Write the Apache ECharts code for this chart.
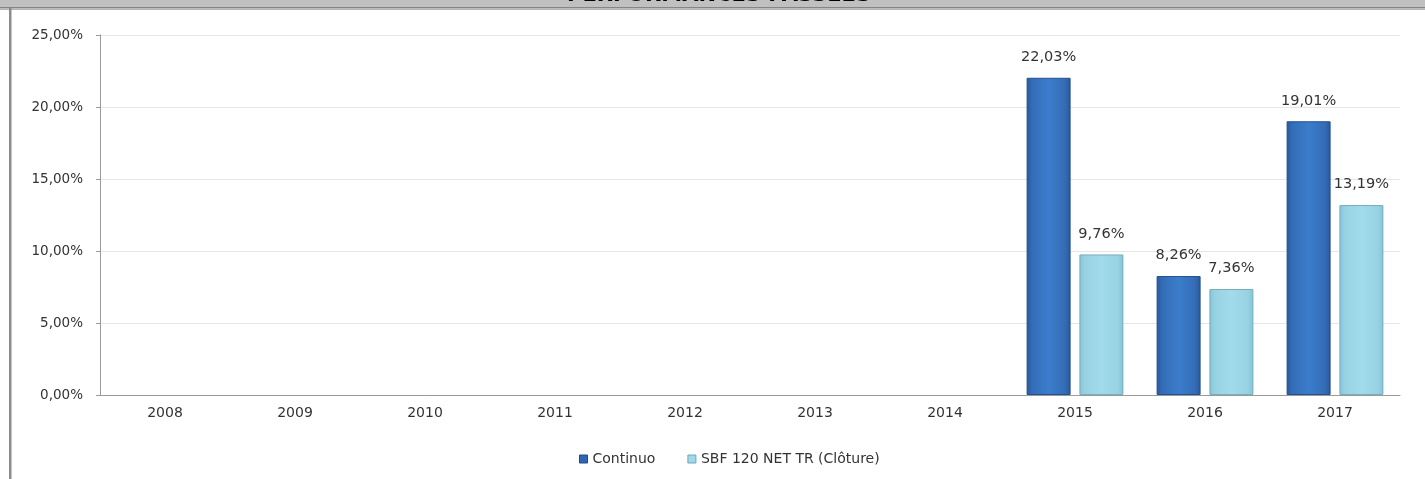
<!DOCTYPE html>
<html>
<head>
<meta charset="utf-8">
<script src="https://cdn.jsdelivr.net/npm/echarts@6/dist/echarts.min.js"></script>
<style>
html,body{margin:0;padding:0;background:#fff;}
#c{width:1425px;height:479px;}
</style>
</head>
<body>
<div id="c"></div>
<script>
const categories = ['2008','2009','2010','2011','2012','2013','2014','2015','2016','2017'];
const continuo = [null,null,null,null,null,null,null,22.03,8.26,19.01];
const sbf = [null,null,null,null,null,null,null,9.76,7.36,13.19];
const seriesNames = ['Continuo','SBF 120 NET TR (Clôture)'];
const titleText = 'PERFORMANCES PASSÉES';

const fr = v => v.toFixed(2).replace('.', ',') + '%';
const font = 'DejaVu Sans';

const chart = echarts.init(document.getElementById('c'));
chart.setOption({
  backgroundColor: '#fff',
  animation: false,
  textStyle: {fontFamily: font},
  grid: {left: 100, right: 25, top: 35, bottom: 84},
  legend: {
    left: 574, top: 447,
    itemWidth: 8, itemHeight: 8, itemGap: 32, icon: 'rect',
    textStyle: {fontFamily: font, fontSize: 14, color: '#333'},
    data: [
      {name: seriesNames[0], itemStyle: {color: '#2f66b2', borderColor: '#1f4a8a', borderWidth: 1}},
      {name: seriesNames[1], itemStyle: {color: '#9fd8e8', borderColor: '#6ea8ba', borderWidth: 1}}
    ]
  },
  xAxis: {
    type: 'category', data: categories,
    axisLine: {lineStyle: {color: '#9a9a9a'}},
    axisTick: {length: 6, lineStyle: {color: '#9a9a9a'}},
    axisLabel: {color: '#333', fontSize: 14, margin: 11, fontFamily: font}
  },
  yAxis: {
    type: 'value', min: 0, max: 25, interval: 5,
    axisLine: {show: true, lineStyle: {color: '#9a9a9a'}},
    axisTick: {show: true, length: 4, lineStyle: {color: '#9a9a9a'}},
    splitLine: {lineStyle: {color: '#e6e6e6'}},
    axisLabel: {color: '#333', fontSize: 13.5, margin: 17, fontFamily: font, formatter: v => fr(v)}
  },
  series: [
    {
      name: seriesNames[0], type: 'bar', data: continuo,
      barWidth: 44, barGap: '20%',
      itemStyle: {
        borderColor: '#24508f', borderWidth: 1,
        color: {type: 'linear', x: 0, y: 0, x2: 1, y2: 0, colorStops: [
          {offset: 0, color: '#2a5797'}, {offset: 0.12, color: '#336cb6'},
          {offset: 0.5, color: '#3b7dcc'}, {offset: 0.88, color: '#336cb6'},
          {offset: 1, color: '#2a5797'}]}
      },
      label: {show: true, position: 'top', distance: 13, color: '#333', fontSize: 14.5, fontFamily: font,
        formatter: p => p.value == null ? '' : fr(p.value)}
    },
    {
      name: seriesNames[1], type: 'bar', data: sbf,
      barWidth: 44,
      itemStyle: {
        borderColor: '#74aebf', borderWidth: 1,
        color: {type: 'linear', x: 0, y: 0, x2: 1, y2: 0, colorStops: [
          {offset: 0, color: '#86c3d4'}, {offset: 0.12, color: '#97d2e3'},
          {offset: 0.5, color: '#a2dbeb'}, {offset: 0.88, color: '#97d2e3'},
          {offset: 1, color: '#86c3d4'}]}
      },
      label: {show: true, position: 'top', distance: 13, color: '#333', fontSize: 14.5, fontFamily: font,
        formatter: p => p.value == null ? '' : fr(p.value)}
    }
  ],
  graphic: [
    {type: 'rect', left: 0, top: 0, shape: {width: 1425, height: 7}, style: {fill: '#c0c0c0'}, z: 10},
    {type: 'rect', left: 0, top: 7, shape: {width: 1425, height: 1.5}, style: {fill: '#858585'}, z: 10},
    {type: 'rect', left: 0, top: 8.5, shape: {width: 1425, height: 1.5}, style: {fill: '#b5b5b5'}, z: 10},
    {type: 'rect', left: 9, top: 8, shape: {width: 2.5, height: 471}, style: {fill: '#8c8c8c'}, z: 10},
    {type: 'text', x: 719, y: -4, z: 11,
      style: {text: titleText, fill: '#000', font: 'bold 21px "DejaVu Sans"', align: 'center', verticalAlign: 'middle'}}
  ]
});
</script>
</body>
</html>
